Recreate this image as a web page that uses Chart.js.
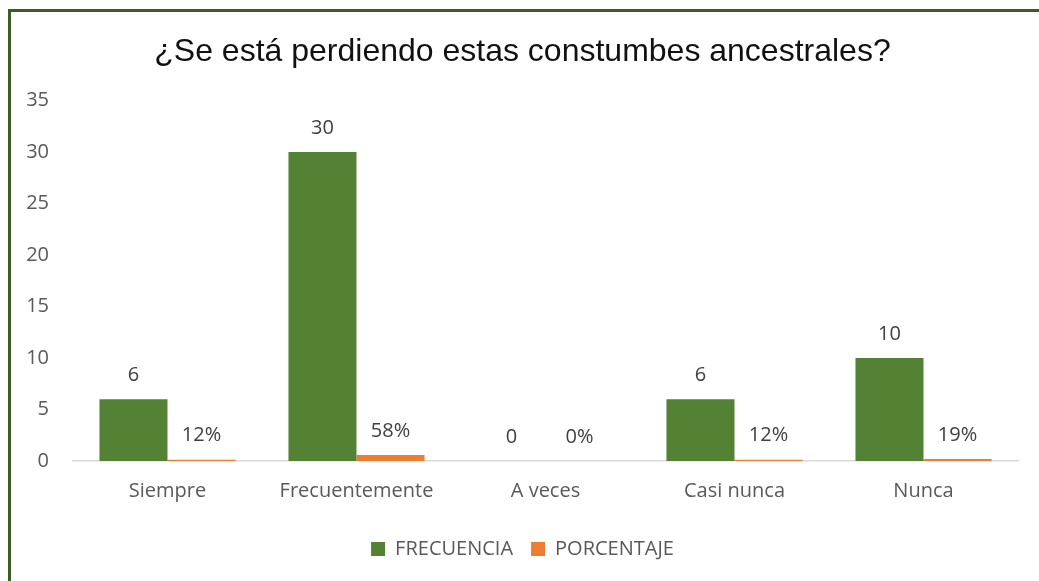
<!DOCTYPE html>
<html>
<head>
<meta charset="utf-8">
<script src="https://cdn.jsdelivr.net/npm/chart.js@4.4.1/dist/chart.umd.min.js"></script>
<style>
  html, body { margin: 0; padding: 0; background: #fff; }
  #wrap { position: relative; width: 1039px; height: 581px; overflow: hidden; }
  #frame {
    position: absolute; left: 8px; top: 9px; right: -10px; bottom: -10px;
    border-left: 3px solid #3b5e20; border-top: 3px solid #3b5e20;
  }
  canvas { position: absolute; left: 0; top: 0; }
</style>
</head>
<body>
<div id="wrap">
  <div id="frame"></div>
  <canvas id="chart" width="1039" height="581"></canvas>
</div>
<script>
// ── Data ───────────────────────────────────────────────────────────────────────
const CATEGORIES = ['Siempre', 'Frecuentemente', 'A veces', 'Casi nunca', 'Nunca'];
const FRECUENCIA = [6, 30, 0, 6, 10];
const PORCENTAJE = [0.12, 0.58, 0, 0.12, 0.19];
const Y_TICKS = [0, 5, 10, 15, 20, 25, 30, 35];

const GREEN = '#548235';
const ORANGE = '#ED7D31';
const FONT = "'Open Sans', 'Noto Sans', sans-serif";

// ── Value labels above each bar ────────────────────────────────────────────────
const barLabels = {
  id: 'barLabels',
  afterDatasetsDraw(chart) {
    const { ctx } = chart;
    ctx.save();
    ctx.font = `20px ${FONT}`;
    ctx.fillStyle = '#404040';
    ctx.textAlign = 'center';
    ctx.textBaseline = 'middle';
    chart.data.datasets.forEach((ds, di) => {
      chart.getDatasetMeta(di).data.forEach((bar, i) => {
        const v = ds.data[i];
        const txt = di === 1 ? `${Math.round(v * 100)}%` : String(v);
        ctx.fillText(txt, bar.x, bar.y - 24);
      });
    });
    ctx.restore();
  },
};

new Chart(document.getElementById('chart'), {
  type: 'bar',
  data: {
    labels: CATEGORIES,
    datasets: [
      { label: 'FRECUENCIA', data: FRECUENCIA, backgroundColor: GREEN },
      { label: 'PORCENTAJE', data: PORCENTAJE, backgroundColor: ORANGE },
    ],
  },
  options: {
    responsive: false,
    animation: false,
    categoryPercentage: 0.72,
    barPercentage: 1,
    layout: { padding: { left: 27, right: 21, top: 0, bottom: 12 } },
    plugins: {
      title: {
        display: true,
        text: '¿Se está perdiendo estas constumbes ancestrales?',
        color: '#111',
        font: { family: "'Liberation Sans', Arial, sans-serif", size: 32, weight: 'normal' },
        padding: { top: 33, bottom: 29 },
      },
      legend: {
        position: 'bottom',
        labels: {
          boxWidth: 14,
          boxHeight: 14,
          padding: 18,
          color: '#595959',
          font: { family: FONT, size: 20 },
        },
      },
      tooltip: { enabled: false },
    },
    scales: {
      x: {
        grid: { display: false, drawTicks: false },
        border: { color: '#d9d9d9', width: 1.5 },
        ticks: { color: '#595959', font: { family: FONT, size: 20 }, padding: 18 },
      },
      y: {
        min: 0,
        max: 35,
        afterBuildTicks: (s) => { s.ticks = Y_TICKS.map(v => ({ value: v })); },
        afterFit: (s) => { s.width = 46; },
        grid: { display: false, drawTicks: false },
        border: { display: false },
        ticks: { color: '#595959', font: { family: FONT, size: 20 }, padding: 24 },
      },
    },
  },
  plugins: [barLabels],
});
</script>
</body>
</html>
